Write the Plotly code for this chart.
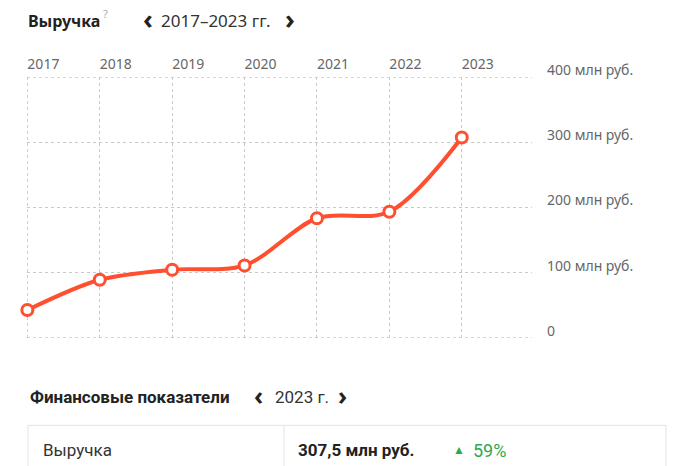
import plotly.graph_objects as go

years = [2017, 2018, 2019, 2020, 2021, 2022, 2023]
revenue = [42.5, 89, 104.5, 111, 183.5, 193.4, 307.5]
y_ticks = [0, 100, 200, 300, 400]
y_tick_labels = ["0", "100 млн руб.", "200 млн руб.", "300 млн руб.", "400 млн руб."]
x_tick_labels = [str(y) for y in years]

W, H = 684, 466
L, R, T, B = 27, 532, 76.6, 338.4

def px(x):
    return (x - L) / (R - L)

def py(y):
    return (B - y) / (B - T)

FONT = "Noto Sans, Open Sans, sans-serif"
BOT = "Roboto, sans-serif"
RED = "#ff4f2e"
GRID = "#c8c8c8"

fig = go.Figure()
fig.add_trace(go.Scatter(
    x=years, y=revenue, mode="lines+markers",
    line=dict(color=RED, width=4, shape="spline", smoothing=0.9),
    marker=dict(size=11, color="white", line=dict(color=RED, width=3)),
    cliponaxis=False, hoverinfo="skip", showlegend=False,
))

grid = dict(showgrid=True, gridcolor=GRID, gridwidth=1, griddash="3px,3px",
            zeroline=False, showline=False, ticks="")

fig.update_layout(
    width=W, height=H,
    margin=dict(l=L, r=W - R, t=T, b=H - B, pad=0),
    paper_bgcolor="white", plot_bgcolor="white",
    font=dict(family=FONT, color="#666666", size=14),
    xaxis=dict(range=[2016.995, 2023.97], side="top", tickmode="array",
               tickvals=years, ticktext=x_tick_labels,
               ticklabelposition="outside right", ticklabelstandoff=4,
               tickfont=dict(size=14, color="#666666"), **grid),
    yaxis=dict(range=[-0.4, 400.4], side="right", tickmode="array",
               tickvals=y_ticks, ticktext=y_tick_labels,
               ticklabelstandoff=14, ticklabelshift=-7,
               tickfont=dict(size=14, color="#666666"), **grid),
)

# edge grid lines (plotly omits gridlines at the plot edges)
for yv in (y_ticks[0], y_ticks[-1]):
    fig.add_shape(type="line", xref="paper", yref="y", x0=0, x1=1, y0=yv, y1=yv,
                  line=dict(color=GRID, width=1, dash="3px,3px"), layer="below")
fig.add_shape(type="line", xref="x", yref="paper", x0=years[0], x1=years[0], y0=0, y1=1,
              line=dict(color=GRID, width=1, dash="3px,3px"), layer="below")

def ann(text, x, y, size, color="#222222", family=FONT, anchor="left"):
    fig.add_annotation(text=text, x=px(x), y=py(y), xref="paper", yref="paper",
                       xanchor=anchor, yanchor="middle", showarrow=False,
                       font=dict(size=size, color=color, family=family))

# header
ann("<b>Выручка</b>", 26, 20, 16)
ann("?", 101, 13, 11, color="#aaaaaa")
ann("<b>‹</b>", 141, 18, 27)
ann("2017–2023 гг.", 159, 20, 17, color="#333333")
ann("<b>›</b>", 283, 18, 27)

# bottom section
ann("<b>Финансовые показатели</b>", 28, 398, 17, family=BOT)
ann("<b>‹</b>", 252, 396, 25, family=FONT)
ann("2023 г.", 273, 398, 17, color="#333333", family=BOT)
ann("<b>›</b>", 336, 396, 25, family=FONT)

# table box
fig.add_shape(type="rect", xref="paper", yref="paper",
              x0=px(28), x1=px(666), y0=py(426), y1=py(480),
              line=dict(color="#e3e3e3", width=1), layer="below")
fig.add_shape(type="line", xref="paper", yref="paper",
              x0=px(284), x1=px(284), y0=py(426), y1=py(480),
              line=dict(color="#e3e3e3", width=1))
ann("Выручка", 41, 451, 17, color="#333333", family=BOT)
ann("<b>307,5 млн руб.</b>", 296, 451, 17, color="#222222", family=BOT)
ann("▲", 451, 450, 12, color="#2ea84a")
ann("59%", 471, 451, 18, color="#2ea84a", family=BOT)

fig.write_html("out.html", config={"displayModeBar": False},
               post_script="document.body.style.margin='0';document.body.style.padding='0';")
